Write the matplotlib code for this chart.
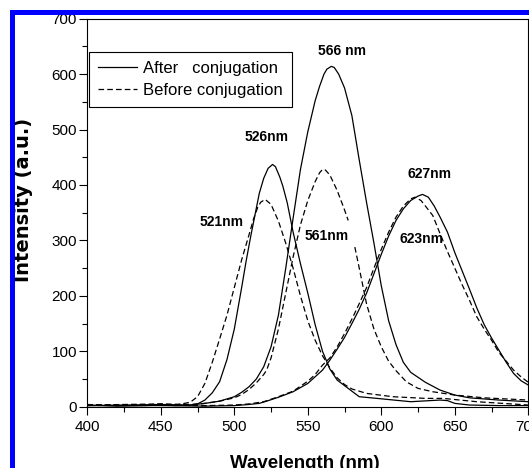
import numpy as np
import matplotlib
matplotlib.use("Agg")
import matplotlib.pyplot as plt
from matplotlib.patches import Rectangle
from matplotlib.ticker import MultipleLocator

plt.rcParams['font.family'] = ['Liberation Sans', 'DejaVu Sans']

# ---- data ----
# After conjugation, peak 526 nm
wl_a = [400, 420, 440, 450, 460, 470, 475, 480, 485, 490, 495, 500, 505, 508, 511, 514, 517, 520, 523, 526,
        528, 531, 533, 536, 540, 545, 550, 555, 560, 565, 570, 575, 580, 585, 597, 620, 640, 645, 650, 660, 680, 700]
int_a = [3, 1, 2, 3, 2, 3, 5, 12, 25, 45, 85, 140, 215, 262, 305, 345, 385, 412, 430, 437,
         433, 414, 398, 368, 315, 258, 205, 148, 100, 68, 48, 38, 28, 18, 15, 9, 12, 11, 6, 3, 2, 2]

# Before conjugation, peak 521 nm
wl_b = [400, 420, 440, 450, 460, 470, 475, 480, 485, 490, 495, 500, 505, 510, 513, 516, 518, 521, 525,
        530, 535, 540, 545, 550, 555, 560, 565, 570, 575, 580, 590, 608, 630, 642, 665, 700]
int_b = [4, 2, 3, 5, 3, 8, 18, 42, 80, 122, 165, 215, 265, 310, 338, 360, 369, 374, 365,
         335, 295, 250, 200, 155, 120, 92, 70, 52, 40, 32, 24, 18, 15, 15, 9, 3]

# After conjugation, peak 566 nm
wl_c = [400, 450, 470, 480, 490, 500, 505, 510, 515, 520, 525, 530, 535, 540, 545, 550, 555, 558, 561, 563,
        566, 568, 571, 575, 580, 585, 590, 595, 600, 605, 610, 615, 620, 630, 640, 650, 660, 680, 700]
int_c = [2, 4, 3, 6, 10, 18, 26, 36, 50, 72, 108, 165, 250, 340, 428, 496, 552, 578, 600, 609,
         614, 612, 600, 575, 525, 445, 368, 295, 218, 155, 112, 80, 62, 44, 30, 21, 16, 12, 9]

# Before conjugation, peak 561 nm (the reference has a small break on the right flank)
wl_d = [400, 450, 470, 480, 490, 500, 505, 510, 515, 520, 522, 525, 530, 535, 540, 545, 550, 555, 558, 560,
        562, 565, 570, 575, 577.5, 580, 582, 585, 590, 595, 600, 605, 610, 617, 625, 635, 650, 670, 700]
int_d = [3, 5, 4, 6, 10, 16, 22, 31, 43, 58, 66, 88, 140, 205, 270, 328, 372, 406, 422, 428,
         427, 418, 390, 355, 336, np.nan, 288, 250, 185, 140, 108, 82, 65, 45, 33, 27, 21, 16, 12]

# After conjugation, peak 627 nm
wl_e = [400, 450, 480, 500, 510, 517, 522, 530, 540, 550, 555, 560, 565, 570, 575, 580, 585, 590,
        595, 600, 605, 610, 615, 620, 625, 628, 632, 636, 640, 645, 650, 655, 660, 665, 670, 675,
        680, 685, 690, 695, 700]
int_e = [2, 2, 1, 2, 4, 6, 10, 17, 27, 42, 54, 66, 84, 104, 125, 150, 176, 205,
         240, 275, 308, 336, 357, 372, 380, 383, 378, 362, 342, 315, 278, 245, 212, 178, 148, 124,
         102, 80, 60, 47, 39]

# Before conjugation, peak 623 nm
wl_f = [400, 450, 480, 500, 510, 520, 530, 540, 550, 555, 560, 565, 570, 575, 580, 585, 590,
        595, 600, 605, 610, 615, 620, 623, 627, 630, 635, 640, 645, 650, 655, 660, 665, 670, 675,
        680, 685, 690, 695, 700]
int_f = [3, 3, 2, 3, 5, 9, 18, 28, 46, 58, 75, 88, 108, 132, 158, 186, 215,
         250, 284, 315, 342, 362, 375, 378, 372, 362, 345, 312, 280, 250, 220, 192, 162, 140, 120,
         98, 82, 66, 54, 44]

peak_labels = ["566 nm", "526nm", "627nm", "521nm", "561nm", "623nm"]
peak_label_x = [573, 522, 633, 491, 563, 627.5]
peak_label_y = [641, 487, 419, 333, 308, 302]

# ---- figure ----
W, H = 529, 468
fig = plt.figure(figsize=(W / 100, H / 100), dpi=100)
x0, x1 = 87.3, 528.3
y_top, y_bot = 18.7, 406.7
ax = fig.add_axes([x0 / W, 1 - y_bot / H, (x1 - x0) / W, (y_bot - y_top) / H])

lw = 0.9
dash = (0, (4.5, 2.5))
ax.plot(wl_a, int_a, color='black', lw=lw, label='After   conjugation')
ax.plot(wl_b, int_b, color='black', lw=lw, linestyle=dash, label='Before conjugation')
ax.plot(wl_c, int_c, color='black', lw=lw)
ax.plot(wl_d, int_d, color='black', lw=lw, linestyle=dash)
ax.plot(wl_e, int_e, color='black', lw=lw)
ax.plot(wl_f, int_f, color='black', lw=lw, linestyle=dash)

for t, xx, yy in zip(peak_labels, peak_label_x, peak_label_y):
    ax.text(xx, yy, t, fontsize=10, fontweight='bold', ha='center', va='center')

ax.set_xlim(400, 700)
ax.set_ylim(0, 700)
ax.xaxis.set_major_locator(MultipleLocator(50))
ax.xaxis.set_minor_locator(MultipleLocator(25))
ax.yaxis.set_major_locator(MultipleLocator(100))
ax.yaxis.set_minor_locator(MultipleLocator(50))
ax.tick_params(which='both', direction='out', top=False, right=False, width=0.8, labelsize=11)
ax.tick_params(which='major', length=5.5)
ax.tick_params(which='minor', length=3.5)
ax.tick_params(axis='x', pad=4)
ax.tick_params(axis='y', pad=2)
for s in ax.spines.values():
    s.set_linewidth(0.8)

leg = ax.legend(loc='upper left', bbox_to_anchor=(0.0045, 0.915), borderaxespad=0,
                fontsize=12, frameon=True, fancybox=False, framealpha=1,
                edgecolor='black', handlelength=2.3, handletextpad=0.4,
                labelspacing=0.4, borderpad=0.55)
leg.get_frame().set_linewidth(0.8)

fig.text(305 / W, 1 - 464 / H, 'Wavelength (nm)', fontsize=13.5, fontweight='bold',
         ha='center', va='center')
fig.text(24 / W, 1 - 200 / H, 'Intensity (a.u.)', fontsize=14, fontweight='bold',
         family=['DejaVu Sans'], rotation=90, ha='center', va='center')

# blue frame (top and left edges visible in the crop)
fig.add_artist(Rectangle((10 / W, 0), 5 / W, (H - 10) / H, transform=fig.transFigure,
                         facecolor='#0000ff', edgecolor='none', zorder=10))
fig.add_artist(Rectangle((10 / W, (H - 15) / H), (W - 10) / W, 5 / H, transform=fig.transFigure,
                         facecolor='#0000ff', edgecolor='none', zorder=10))

fig.savefig('out.png', dpi=100)
